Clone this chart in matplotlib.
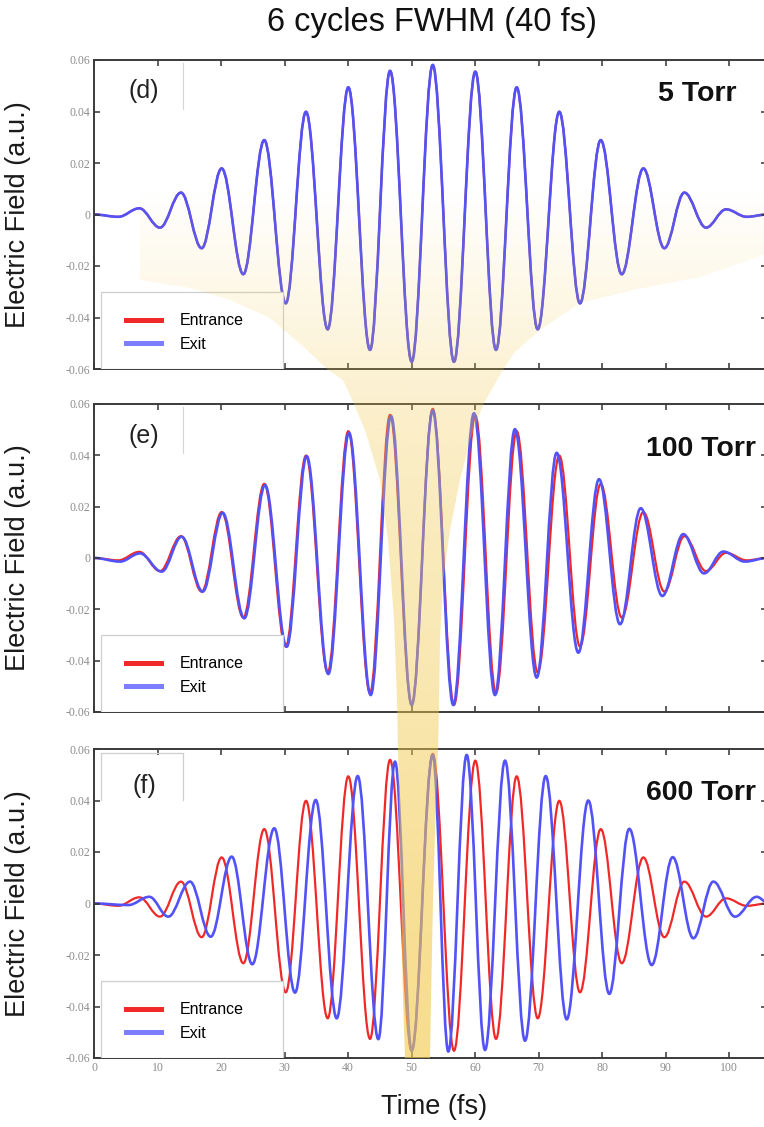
import numpy as np
import matplotlib
matplotlib.use('Agg')
import matplotlib.pyplot as plt
from matplotlib.path import Path
from matplotlib.patches import PathPatch, Polygon, Rectangle
from matplotlib.lines import Line2D

plt.rcParams['font.family'] = ['Liberation Sans', 'DejaVu Sans']

# field extrema (time in fs, field in a.u.) of the pulse entering the cell
t_entrance = [0.0, 3.78, 7.09, 10.35, 13.66, 16.92, 20.07, 23.48, 26.78, 30.16,
              33.35, 36.77, 40.02, 43.44, 46.60, 50.01, 53.32, 56.67, 60.03,
              63.29, 66.55, 69.86, 73.26, 76.52, 79.79, 83.10, 86.50, 89.81,
              92.96, 96.38, 99.53, 102.79, 106.0]
e_entrance = [0.0, -0.0009, 0.0024, -0.0051, 0.0085, -0.0131, 0.0179, -0.0232,
              0.0289, -0.0345, 0.0399, -0.0446, 0.0494, -0.0526, 0.0558,
              -0.0572, 0.0581, -0.0572, 0.0555, -0.0526, 0.0494, -0.0446,
              0.0399, -0.0345, 0.0289, -0.0232, 0.0179, -0.0131, 0.0085,
              -0.0051, 0.0020, -0.0009, 0.0]

# exit pulse, 5 Torr (no visible change)
t_exit_5 = list(t_entrance)
e_exit_5 = list(e_entrance)

# exit pulse, 100 Torr
t_exit_100 = [0.0, 4.05, 7.20, 10.62, 13.77, 17.08, 20.23, 23.63, 26.90, 30.31,
              33.46, 36.87, 40.13, 43.55, 46.75, 50.01, 53.32, 56.56, 59.82,
              63.13, 66.27, 69.70, 72.85, 76.26, 79.52, 82.83, 86.09, 89.49,
              92.80, 96.06, 99.10, 102.52, 106.0]
e_exit_100 = [0.0, -0.0014, 0.0018, -0.0053, 0.0083, -0.0131, 0.0176, -0.0235,
              0.0284, -0.0346, 0.0397, -0.0452, 0.0488, -0.0534, 0.0553,
              -0.0573, 0.0574, -0.0573, 0.0564, -0.0534, 0.0502, -0.0466,
              0.0410, -0.0369, 0.0307, -0.0258, 0.0194, -0.0148, 0.0093,
              -0.0060, 0.0025, -0.0014, 0.0]

# exit pulse, 600 Torr
t_exit_600 = [0.0, 5.36, 8.67, 11.66, 15.08, 18.34, 21.65, 24.89, 28.36, 31.62,
              34.88, 38.19, 41.50, 44.75, 47.38, 50.01, 53.32, 55.77, 58.67,
              61.56, 64.71, 67.86, 71.12, 74.43, 77.83, 81.14, 84.29, 87.82,
              91.13, 94.38, 97.53, 100.95, 104.37, 106.0]
e_exit_600 = [0.0, -0.0006, 0.0026, -0.0051, 0.0085, -0.0129, 0.0182, -0.0236,
              0.0292, -0.0346, 0.0402, -0.0446, 0.0495, -0.0527, 0.0551,
              -0.0572, 0.0577, -0.0575, 0.0577, -0.0569, 0.0555, -0.0533,
              0.0495, -0.0450, 0.0400, -0.0351, 0.0290, -0.0239, 0.0180,
              -0.0135, 0.0085, -0.0051, 0.0026, 0.0005]

panel_tags = ['(d)', '(e)', '(f)']
pressures = ['5 Torr', '100 Torr', '600 Torr']
exits = [(t_exit_5, e_exit_5), (t_exit_100, e_exit_100), (t_exit_600, e_exit_600)]

x_ticks = [0, 10, 20, 30, 40, 50, 60, 70, 80, 90, 100]
y_ticks = [-0.06, -0.04, -0.02, 0.0, 0.02, 0.04, 0.06]
y_ticklabels = ['-0.06', '-0.04', '-0.02', '0', '0.02', '0.04', '0.06']

RED = '#f02828'
BLUE = '#5252f8'
W, H = 764, 1127


def wave_path(t, v):
    # smooth half-cycles between successive extrema (flat tangent at each one)
    k = (np.pi - 2) / np.pi
    verts = [(t[0], v[0])]
    codes = [Path.MOVETO]
    for i in range(len(t) - 1):
        dt = t[i + 1] - t[i]
        verts += [(t[i] + k * dt, v[i]), (t[i + 1] - k * dt, v[i + 1]), (t[i + 1], v[i + 1])]
        codes += [Path.CURVE4] * 3
    return Path(verts, codes)


def px_rect(top, bottom, left=94.3, right=767.1):
    return [left / W, 1 - bottom / H, (right - left) / W, (bottom - top) / H]


fig = plt.figure(figsize=(W / 100, H / 100), dpi=100)
rects = [px_rect(60, 369), px_rect(404, 712), px_rect(749, 1058)]
tag_y = [0.90, 0.896, 0.88]
pres_xy = [(0.954, 0.89), (0.984, 0.854), (0.984, 0.858)]

axes = []
for i, r in enumerate(rects):
    ax = fig.add_axes(r)
    axes.append(ax)
    t_out, e_out = exits[i]
    ax.add_patch(PathPatch(wave_path(t_entrance, e_entrance), fill=False,
                           edgecolor=RED, lw=1.6, joinstyle='round'))
    ax.add_patch(PathPatch(wave_path(t_out, e_out), fill=False,
                           edgecolor=BLUE, lw=1.9, joinstyle='round'))
    ax.set_xlim(0, 106)
    ax.set_ylim(-0.06, 0.06)
    ax.set_xticks(x_ticks)
    ax.set_yticks(y_ticks)
    ax.set_yticklabels(y_ticklabels)
    ax.tick_params(direction='in', top=True, right=True, length=4, width=1.1,
                   color='#333333', labelsize=8.5, labelcolor='#8c8c8c', pad=3)
    for lab in ax.get_xticklabels() + ax.get_yticklabels():
        lab.set_family('Liberation Serif')
    for sp in ax.spines.values():
        sp.set_color('#3a3a3a')
        sp.set_linewidth(1.4)
    if i < 2:
        ax.tick_params(labelbottom=False)
    ax.set_ylabel('Electric Field (a.u.)', fontsize=19.5, color='#1a1a1a')
    ax.yaxis.set_label_coords(-0.094, 0.5)

    ax.text(0.074, tag_y[i], panel_tags[i], transform=ax.transAxes, fontsize=18,
            ha='center', va='center', color='#222222')
    ax.text(pres_xy[i][0], pres_xy[i][1], pressures[i], transform=ax.transAxes,
            fontsize=20.5, fontweight='bold', ha='right', va='center', color='#111111')

    # faint frame left around the panel tag
    if i < 2:
        ax.plot([0.132, 0.132], [0.99, 0.84], transform=ax.transAxes,
                color='#d6d6d6', lw=0.8)
    else:
        ax.plot([0.0095, 0.0095, 0.132, 0.132], [0.835, 0.987, 0.987, 0.835],
                transform=ax.transAxes, color='#cfcfcf', lw=0.9)

    # legend box, then the entries without their own frame
    ax.add_patch(Rectangle((0.0095, 0.0), 0.271, 0.25, transform=ax.transAxes,
                           facecolor='white', edgecolor='#cfcfcf', lw=0.9, zorder=4))
    handles = [Line2D([], [], color=RED, lw=3.6),
               Line2D([], [], color='#7d7dff', lw=3.6)]
    ax.legend(handles, ['Entrance', 'Exit'], loc='lower left',
              bbox_to_anchor=(0.047, 0.055), borderaxespad=0, borderpad=0,
              fontsize=11.5, handlelength=2.2, handletextpad=1.15,
              labelspacing=0.55, frameon=False)

axes[2].set_xlabel('Time (fs)', fontsize=19.5, color='#1a1a1a')
axes[2].xaxis.set_label_coords(0.505, -0.118)

fig.text(432 / W, 1 - 22 / H, '6 cycles FWHM (40 fs)', fontsize=23.5,
         ha='center', va='center', color='#111111')

# golden funnel narrowing from the 5 Torr panel down to the 600 Torr panel
ov = fig.add_axes([0, 0, 1, 1], zorder=10)
ov.set_xlim(0, W)
ov.set_ylim(H, 0)
ov.axis('off')
ov.patch.set_alpha(0)
funnel = [(140, 130), (764, 130), (764, 255), (700, 277), (633, 290), (580, 303),
          (540, 330), (515, 352), (503, 370), (497, 380), (483, 405), (470, 440),
          (460, 480), (450, 530), (443, 580), (440, 640), (439, 707), (438, 749),
          (436, 800), (433, 900), (431, 1000), (430, 1058), (405, 1058),
          (403, 1000), (401, 900), (399, 800), (398, 749), (397, 700), (394, 620),
          (388, 540), (380, 480), (365, 430), (350, 395), (343, 380), (327, 369),
          (305, 348), (270, 318), (230, 300), (190, 288), (140, 280)]
poly = Polygon(funnel, closed=True, facecolor='none', edgecolor='none')
ov.add_patch(poly)
fade = np.array([0.0, 0.15, 0.3, 0.38, 0.42, 0.5, 0.58, 0.62])
img = np.zeros((len(fade), 1, 4))
img[:, 0, :3] = matplotlib.colors.to_rgb('#f2c94c')
img[:, 0, 3] = fade
im = ov.imshow(img, extent=(0, W, 1060, 130), aspect='auto',
               interpolation='bilinear', origin='upper')
im.set_clip_path(poly)

fig.savefig('out.png', dpi=100)
